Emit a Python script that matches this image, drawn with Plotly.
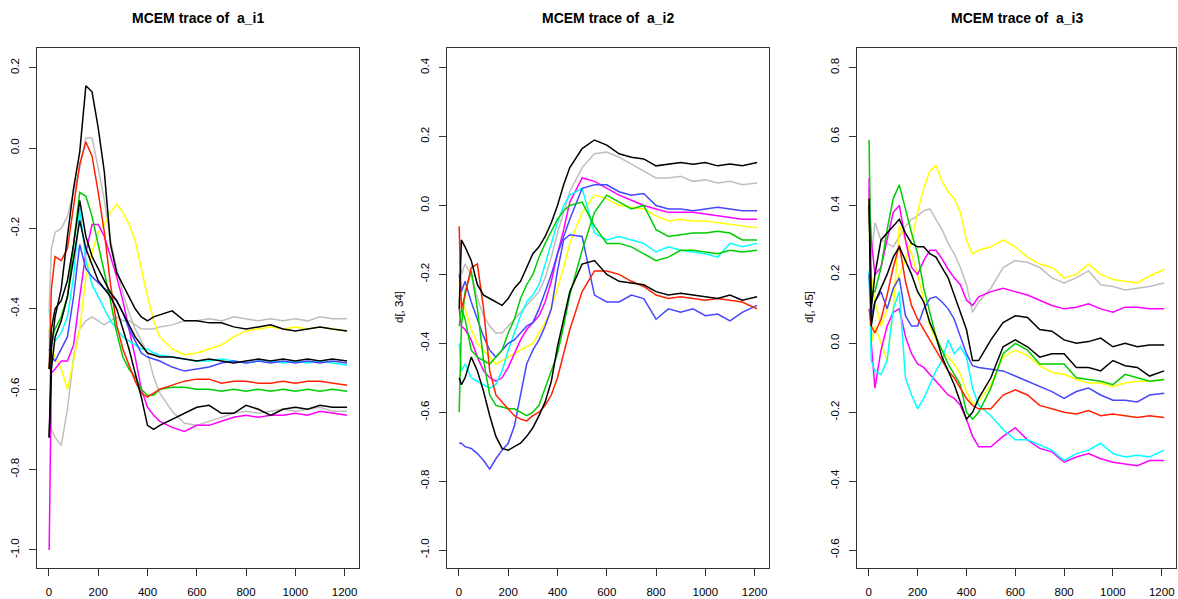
import plotly.graph_objects as go

# ---------------- data ----------------
iters = [1, 10, 25, 50, 75, 100, 125, 150, 175, 200, 225, 250, 275, 300, 325, 350, 375, 400, 425, 450,
         500, 550, 600, 650, 700, 750, 800, 850, 900, 950, 1000, 1050, 1100, 1150, 1210]

x_ticks = [0, 200, 400, 600, 800, 1000, 1200]
p1_yticks = [-1.0, -0.8, -0.6, -0.4, -0.2, 0.0, 0.2]
p2_yticks = [-1.0, -0.8, -0.6, -0.4, -0.2, 0.0, 0.2, 0.4]
p3_yticks = [-0.6, -0.4, -0.2, 0.0, 0.2, 0.4, 0.6, 0.8]

titles = ["MCEM trace of \u00a0a_i1", "MCEM trace of \u00a0a_i2", "MCEM trace of \u00a0a_i3"]
ylabels = ["", "d[, 34]", "d[, 45]"]

# panel 1 (a_i1)
p1_gray_b = [-0.45, -0.70, -0.72, -0.74, -0.65, -0.52, -0.45, -0.43, -0.42, -0.43, -0.44, -0.43, -0.42, -0.43, -0.43,
             -0.44, -0.45, -0.45, -0.45, -0.445, -0.44, -0.43, -0.43, -0.425, -0.43, -0.42, -0.425, -0.43, -0.425, -0.43,
             -0.425, -0.43, -0.42, -0.425, -0.425]
p1_gray_a = [-0.40, -0.25, -0.21, -0.20, -0.17, -0.11, -0.05, 0.025, 0.025, -0.05, -0.13, -0.23, -0.30, -0.36, -0.41,
             -0.45, -0.48, -0.51, -0.57, -0.61, -0.655, -0.685, -0.69, -0.68, -0.67, -0.66, -0.655, -0.66, -0.655, -0.65,
             -0.655, -0.65, -0.645, -0.655, -0.655]
p1_yellow = [-0.45, -0.50, -0.52, -0.55, -0.60, -0.53, -0.45, -0.32, -0.26, -0.21, -0.19, -0.16, -0.14, -0.16, -0.19,
             -0.23, -0.30, -0.37, -0.43, -0.47, -0.50, -0.515, -0.51, -0.50, -0.49, -0.47, -0.455, -0.45, -0.445, -0.45,
             -0.445, -0.45, -0.445, -0.45, -0.455]
p1_magenta = [-1.0, -0.56, -0.55, -0.53, -0.53, -0.49, -0.37, -0.26, -0.19, -0.19, -0.22, -0.27, -0.32, -0.38, -0.45,
              -0.52, -0.60, -0.645, -0.665, -0.68, -0.695, -0.705, -0.69, -0.69, -0.68, -0.67, -0.665, -0.67, -0.665, -0.665,
              -0.66, -0.665, -0.655, -0.66, -0.665]
p1_cyan = [-0.40, -0.47, -0.48, -0.46, -0.42, -0.32, -0.15, -0.28, -0.34, -0.37, -0.40, -0.43, -0.45, -0.47, -0.48,
           -0.49, -0.50, -0.50, -0.51, -0.515, -0.52, -0.525, -0.53, -0.53, -0.525, -0.53, -0.535, -0.53, -0.53, -0.535,
           -0.53, -0.535, -0.53, -0.535, -0.54]
p1_blue = [-0.50, -0.52, -0.53, -0.50, -0.47, -0.37, -0.24, -0.30, -0.32, -0.335, -0.35, -0.36, -0.38, -0.41, -0.45,
           -0.48, -0.51, -0.52, -0.525, -0.53, -0.545, -0.555, -0.55, -0.545, -0.535, -0.53, -0.535, -0.53, -0.535, -0.53,
           -0.535, -0.53, -0.535, -0.53, -0.535]
p1_green = [-0.55, -0.48, -0.45, -0.42, -0.37, -0.24, -0.11, -0.12, -0.17, -0.24, -0.31, -0.38, -0.46, -0.52, -0.55,
            -0.57, -0.60, -0.615, -0.615, -0.60, -0.595, -0.595, -0.60, -0.60, -0.605, -0.60, -0.605, -0.60, -0.605, -0.60,
            -0.605, -0.60, -0.605, -0.60, -0.605]
p1_red = [-0.55, -0.35, -0.27, -0.28, -0.25, -0.14, -0.04, 0.015, -0.02, -0.11, -0.21, -0.34, -0.44, -0.50, -0.54,
          -0.58, -0.61, -0.62, -0.61, -0.60, -0.59, -0.58, -0.575, -0.575, -0.585, -0.58, -0.58, -0.585, -0.585, -0.58,
          -0.585, -0.58, -0.58, -0.585, -0.59]
p1_black_c = [-0.72, -0.55, -0.47, -0.43, -0.37, -0.28, -0.18, -0.25, -0.29, -0.33, -0.35, -0.37, -0.40, -0.45, -0.50,
              -0.56, -0.62, -0.69, -0.70, -0.69, -0.675, -0.66, -0.645, -0.64, -0.66, -0.66, -0.64, -0.65, -0.665, -0.65,
              -0.645, -0.65, -0.64, -0.645, -0.645]
p1_black_b = [-0.55, -0.45, -0.40, -0.38, -0.33, -0.24, -0.13, -0.22, -0.27, -0.30, -0.33, -0.36, -0.38, -0.41, -0.44,
              -0.47, -0.49, -0.51, -0.515, -0.52, -0.52, -0.525, -0.53, -0.525, -0.53, -0.535, -0.53, -0.525, -0.53, -0.525,
              -0.53, -0.525, -0.53, -0.525, -0.53]
p1_black_a = [-0.72, -0.50, -0.42, -0.35, -0.22, -0.10, -0.01, 0.155, 0.14, 0.05, -0.06, -0.24, -0.31, -0.34, -0.37,
              -0.40, -0.42, -0.43, -0.42, -0.415, -0.405, -0.43, -0.43, -0.435, -0.435, -0.445, -0.45, -0.445, -0.44, -0.45,
              -0.455, -0.45, -0.445, -0.45, -0.455]

# panel 2 (a_i2)
p2_black_a = [-0.30, -0.10, -0.12, -0.16, -0.23, -0.26, -0.27, -0.28, -0.29, -0.27, -0.24, -0.22, -0.18, -0.14, -0.12,
              -0.09, -0.05, 0.00, 0.06, 0.11, 0.165, 0.19, 0.175, 0.15, 0.14, 0.135, 0.115, 0.12, 0.125, 0.12,
              0.125, 0.115, 0.12, 0.115, 0.125]
p2_gray = [-0.15, -0.20, -0.17, -0.20, -0.27, -0.32, -0.35, -0.37, -0.37, -0.35, -0.33, -0.31, -0.29, -0.27, -0.25,
           -0.21, -0.15, -0.08, -0.02, 0.04, 0.11, 0.15, 0.155, 0.14, 0.12, 0.10, 0.08, 0.08, 0.085, 0.07,
           0.075, 0.065, 0.07, 0.06, 0.065]
p2_blue_a = [-0.20, -0.25, -0.22, -0.28, -0.33, -0.38, -0.42, -0.44, -0.42, -0.40, -0.39, -0.37, -0.35, -0.34, -0.30,
             -0.25, -0.20, -0.14, -0.09, -0.04, 0.05, 0.06, 0.06, 0.04, 0.03, 0.035, 0.00, -0.01, -0.01, -0.015,
             -0.01, -0.005, -0.01, -0.015, -0.015]
p2_magenta = [-0.30, -0.35, -0.36, -0.39, -0.44, -0.48, -0.50, -0.51, -0.50, -0.47, -0.43, -0.39, -0.36, -0.34, -0.32,
              -0.28, -0.22, -0.14, -0.07, 0.01, 0.08, 0.07, 0.05, 0.03, 0.015, 0.00, -0.01, -0.02, -0.02, -0.02,
              -0.025, -0.03, -0.035, -0.04, -0.04]
p2_yellow = [-0.25, -0.28, -0.30, -0.36, -0.40, -0.42, -0.44, -0.46, -0.45, -0.44, -0.43, -0.42, -0.41, -0.40, -0.37,
             -0.34, -0.30, -0.24, -0.18, -0.11, -0.02, 0.03, 0.02, 0.00, -0.005, -0.01, -0.03, -0.045, -0.04, -0.045,
             -0.045, -0.05, -0.055, -0.06, -0.065]
p2_cyan = [-0.40, -0.48, -0.46, -0.50, -0.51, -0.52, -0.53, -0.52, -0.48, -0.42, -0.37, -0.32, -0.28, -0.26, -0.23,
           -0.17, -0.11, -0.05, 0.00, 0.03, 0.05, -0.08, -0.10, -0.09, -0.10, -0.11, -0.135, -0.12, -0.13, -0.135,
           -0.14, -0.15, -0.11, -0.12, -0.11]
p2_green_a = [-0.60, -0.35, -0.25, -0.19, -0.30, -0.45, -0.55, -0.58, -0.585, -0.59, -0.59, -0.60, -0.61, -0.60, -0.58,
              -0.53, -0.48, -0.43, -0.35, -0.26, -0.13, -0.02, 0.03, 0.01, -0.01, 0.00, -0.07, -0.09, -0.085, -0.08,
              -0.08, -0.075, -0.08, -0.10, -0.10]
p2_green_b = [-0.35, -0.30, -0.33, -0.42, -0.44, -0.45, -0.46, -0.44, -0.42, -0.37, -0.33, -0.27, -0.23, -0.20, -0.15,
              -0.11, -0.075, -0.04, -0.015, 0.00, 0.01, -0.06, -0.11, -0.11, -0.12, -0.14, -0.16, -0.15, -0.13, -0.13,
              -0.135, -0.14, -0.13, -0.135, -0.13]
p2_black_b = [-0.50, -0.52, -0.50, -0.44, -0.48, -0.54, -0.61, -0.67, -0.705, -0.71, -0.70, -0.69, -0.67, -0.645, -0.61,
              -0.57, -0.51, -0.41, -0.33, -0.25, -0.17, -0.16, -0.20, -0.22, -0.225, -0.23, -0.25, -0.26, -0.255, -0.26,
              -0.265, -0.27, -0.26, -0.275, -0.265]
p2_red = [-0.06, -0.30, -0.26, -0.18, -0.17, -0.30, -0.48, -0.55, -0.57, -0.59, -0.61, -0.62, -0.625, -0.61, -0.60,
          -0.58, -0.55, -0.50, -0.43, -0.36, -0.25, -0.19, -0.19, -0.20, -0.22, -0.235, -0.26, -0.27, -0.265, -0.27,
          -0.275, -0.27, -0.275, -0.28, -0.30]
p2_blue_b = [-0.69, -0.69, -0.70, -0.705, -0.72, -0.74, -0.765, -0.735, -0.71, -0.69, -0.64, -0.55, -0.46, -0.42, -0.39,
             -0.35, -0.30, -0.19, -0.10, -0.085, -0.09, -0.26, -0.28, -0.28, -0.26, -0.27, -0.33, -0.30, -0.31, -0.30,
             -0.32, -0.315, -0.335, -0.31, -0.29]

# panel 3 (a_i3)
p3_yellow_a = [0.43, 0.20, 0.12, 0.05, 0.10, 0.15, 0.20, 0.24, 0.30, 0.38, 0.45, 0.50, 0.515, 0.47, 0.44,
               0.42, 0.38, 0.30, 0.26, 0.27, 0.28, 0.30, 0.28, 0.25, 0.23, 0.22, 0.19, 0.20, 0.23, 0.20,
               0.185, 0.18, 0.175, 0.195, 0.215]
p3_gray = [0.30, 0.25, 0.35, 0.30, 0.29, 0.28, 0.31, 0.34, 0.36, 0.37, 0.385, 0.39, 0.36, 0.33, 0.29,
           0.26, 0.22, 0.17, 0.09, 0.12, 0.16, 0.22, 0.24, 0.235, 0.22, 0.19, 0.175, 0.19, 0.21, 0.17,
           0.165, 0.155, 0.16, 0.165, 0.175]
p3_magenta_a = [0.45, 0.30, 0.20, 0.22, 0.30, 0.38, 0.40, 0.30, 0.22, 0.20, 0.24, 0.27, 0.27, 0.245, 0.215,
                0.19, 0.17, 0.125, 0.11, 0.135, 0.15, 0.16, 0.15, 0.14, 0.125, 0.11, 0.10, 0.105, 0.115, 0.10,
                0.09, 0.105, 0.105, 0.10, 0.10]
p3_black_a = [0.42, 0.10, 0.20, 0.30, 0.32, 0.34, 0.36, 0.32, 0.29, 0.28, 0.28, 0.26, 0.25, 0.22, 0.19,
              0.14, 0.09, 0.04, -0.05, -0.05, 0.01, 0.06, 0.08, 0.075, 0.04, 0.035, 0.01, 0.00, 0.005, 0.015,
              -0.01, 0.00, -0.01, -0.005, -0.005]
p3_black_b = [0.40, 0.05, 0.12, 0.16, 0.20, 0.25, 0.28, 0.24, 0.20, 0.15, 0.12, 0.06, 0.02, -0.04, -0.08,
              -0.12, -0.17, -0.22, -0.20, -0.16, -0.10, -0.01, 0.01, -0.01, -0.04, -0.03, -0.03, -0.07, -0.07, -0.08,
              -0.05, -0.065, -0.07, -0.095, -0.08]
p3_green = [0.59, 0.15, 0.15, 0.22, 0.33, 0.42, 0.46, 0.39, 0.32, 0.26, 0.16, 0.09, 0.02, -0.02, -0.06,
            -0.09, -0.12, -0.20, -0.22, -0.20, -0.13, -0.03, 0.00, -0.02, -0.06, -0.06, -0.06, -0.10, -0.105, -0.11,
            -0.12, -0.09, -0.10, -0.11, -0.105]
p3_yellow_b = [0.43, 0.00, 0.05, 0.00, -0.05, 0.10, 0.34, 0.30, 0.26, 0.20, 0.12, 0.05, 0.01, -0.02, -0.04,
               -0.06, -0.09, -0.14, -0.175, -0.17, -0.12, -0.04, -0.02, -0.035, -0.065, -0.085, -0.09, -0.105, -0.115, -0.115,
               -0.125, -0.115, -0.11, -0.11, -0.105]
p3_blue = [0.20, 0.08, 0.12, 0.15, 0.10, 0.16, 0.19, 0.08, 0.05, 0.05, 0.10, 0.13, 0.135, 0.12, 0.10,
           0.07, 0.02, -0.03, -0.065, -0.07, -0.075, -0.08, -0.095, -0.11, -0.125, -0.14, -0.16, -0.14, -0.13, -0.15,
           -0.165, -0.165, -0.17, -0.15, -0.145]
p3_red = [0.10, 0.05, 0.03, 0.07, 0.14, 0.22, 0.285, 0.18, 0.11, 0.07, 0.04, 0.01, -0.02, -0.05, -0.08,
          -0.10, -0.13, -0.16, -0.18, -0.19, -0.19, -0.15, -0.135, -0.15, -0.18, -0.19, -0.20, -0.205, -0.195, -0.21,
          -0.205, -0.21, -0.215, -0.21, -0.215]
p3_cyan = [0.21, -0.05, -0.08, -0.09, -0.05, 0.10, 0.15, -0.10, -0.15, -0.19, -0.16, -0.12, -0.08, -0.05, 0.01,
           -0.03, -0.01, -0.04, -0.13, -0.18, -0.21, -0.25, -0.28, -0.28, -0.295, -0.31, -0.34, -0.32, -0.31, -0.29,
           -0.32, -0.33, -0.325, -0.33, -0.31]
p3_magenta_b = [0.48, 0.00, -0.13, -0.02, 0.05, 0.09, 0.10, 0.02, -0.03, -0.06, -0.07, -0.09, -0.11, -0.13, -0.15,
                -0.16, -0.18, -0.22, -0.27, -0.30, -0.30, -0.27, -0.245, -0.28, -0.305, -0.315, -0.345, -0.33, -0.32, -0.335,
                -0.345, -0.35, -0.355, -0.34, -0.34]

# ---------------- styling ----------------
COL = {"black": "#000000", "red": "#FF2200", "green": "#00CD00", "blue": "#4646FF",
       "cyan": "#00FFFF", "magenta": "#FF00FF", "yellow": "#FFFF00", "gray": "#BEBEBE"}

panels = [
    [(p1_gray_b, "gray"), (p1_gray_a, "gray"), (p1_yellow, "yellow"), (p1_magenta, "magenta"),
     (p1_cyan, "cyan"), (p1_blue, "blue"), (p1_green, "green"), (p1_red, "red"),
     (p1_black_c, "black"), (p1_black_b, "black"), (p1_black_a, "black")],
    [(p2_gray, "gray"), (p2_yellow, "yellow"), (p2_magenta, "magenta"), (p2_cyan, "cyan"),
     (p2_blue_a, "blue"), (p2_blue_b, "blue"), (p2_green_a, "green"), (p2_green_b, "green"),
     (p2_red, "red"), (p2_black_b, "black"), (p2_black_a, "black")],
    [(p3_gray, "gray"), (p3_yellow_a, "yellow"), (p3_yellow_b, "yellow"), (p3_magenta_a, "magenta"),
     (p3_magenta_b, "magenta"), (p3_cyan, "cyan"), (p3_blue, "blue"), (p3_green, "green"),
     (p3_red, "red"), (p3_black_b, "black"), (p3_black_a, "black")],
]

W, H = 1178, 599
xdoms = [(37 / W, 359 / W), (447 / W, 769 / W), (857 / W, 1176 / W)]
ydom = (1 - 568 / H, 1 - 48 / H)
yranges = [(-1.045, 0.249), (-1.052, 0.457), (-0.652, 0.857)]
yticks = [p1_yticks, p2_yticks, p3_yticks]
FONT = "Liberation Sans, Arial"

fig = go.Figure()
for i, series in enumerate(panels):
    ax = "" if i == 0 else str(i + 1)
    for vals, cname in series:
        fig.add_trace(go.Scatter(x=iters, y=vals, mode="lines", xaxis="x" + ax, yaxis="y" + ax,
                                 line=dict(color=COL[cname], width=1.5), showlegend=False,
                                 hoverinfo="skip"))
    common = dict(showline=True, mirror=True, linecolor="#333333", linewidth=1, ticks="outside",
                  ticklen=7, tickcolor="#333333", showgrid=False, zeroline=False,
                  tickfont=dict(family=FONT, size=11.5, color="#000000"))
    fig.layout["xaxis" + ax] = dict(domain=list(xdoms[i]), range=[-48.4, 1258.4], anchor="y" + ax,
                                    tickvals=x_ticks, ticktext=[str(t) for t in x_ticks],
                                    ticklabelstandoff=6, **common)
    fig.layout["yaxis" + ax] = dict(domain=list(ydom), range=list(yranges[i]), anchor="x" + ax,
                                    tickvals=yticks[i], ticktext=["%.1f" % t for t in yticks[i]],
                                    tickangle=-90, ticklabelstandoff=5, **common)
    cx = (xdoms[i][0] + xdoms[i][1]) / 2
    fig.add_annotation(text="<b>" + titles[i] + "</b>", x=cx, y=1 - 18 / H, xref="paper", yref="paper",
                       showarrow=False, font=dict(family=FONT, size=14, color="#000000"),
                       xanchor="center", yanchor="middle")
    if ylabels[i]:
        fig.add_annotation(text=ylabels[i], x=xdoms[i][0] - 48 / W, y=1 - 307 / H, xref="paper", yref="paper",
                           showarrow=False, textangle=-90,
                           font=dict(family=FONT, size=11.5, color="#000000"),
                           xanchor="center", yanchor="middle")

fig.update_layout(width=W, height=H, margin=dict(l=0, r=0, t=0, b=0),
                  paper_bgcolor="white", plot_bgcolor="white")
fig.write_html("out.html", config={"displayModeBar": False},
               post_script="document.body.style.margin='0';document.body.style.overflow='hidden';")
